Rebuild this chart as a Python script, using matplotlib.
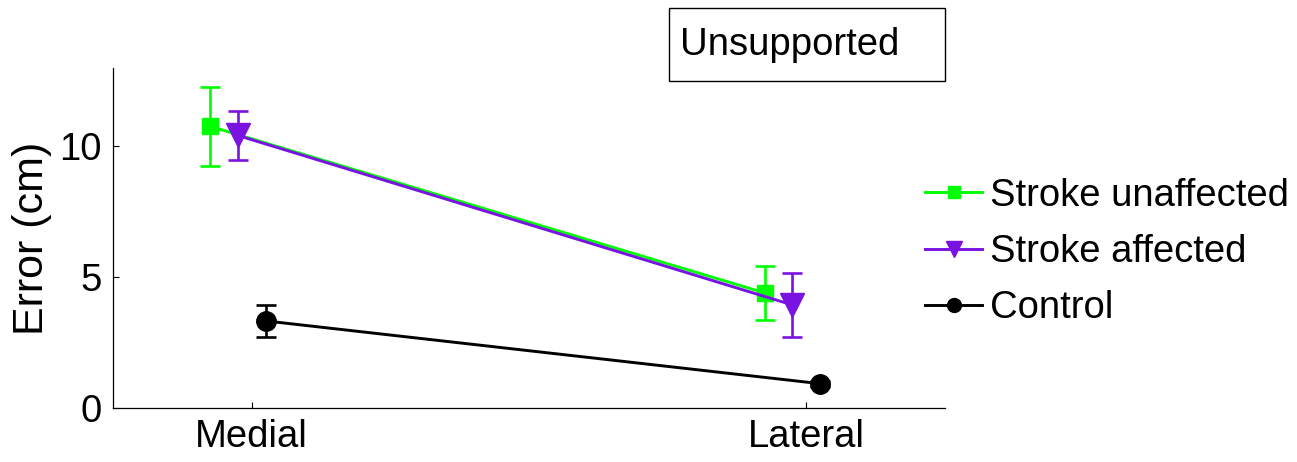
import matplotlib.pyplot as plt
from matplotlib.patches import Rectangle

plt.rcParams['font.family'] = ['Liberation Sans', 'DejaVu Sans']

# data
CONDITIONS = ["Medial", "Lateral"]
GROUPS = ["Stroke unaffected", "Stroke affected", "Control"]
OFFSETS = [-0.075, -0.025, 0.025]

unaffected_mean = [10.77, 4.40]
unaffected_err = [1.52, 1.04]
affected_mean = [10.42, 3.94]
affected_err = [0.92, 1.23]
control_mean = [3.33, 0.93]
control_err = [0.60, 0.12]

MEANS = [unaffected_mean, affected_mean, control_mean]
ERRS = [unaffected_err, affected_err, control_err]
COLORS = ["#00FF00", "#7A12E2", "#000000"]
MARKERS = ["s", "v", "o"]
MSIZES = [11.5, 17, 14]
LEG_MSIZES = [9, 12, 10]

W, H = 1297, 462
fig = plt.figure(figsize=(W / 100, H / 100), dpi=100)
ax = fig.add_axes([113 / W, 1 - 408 / H, (945 - 113) / W, (408 - 68) / H])

base_x = [1, 2]
handles = []
for name, mean, err, col, mk, ms, lms, off in zip(GROUPS, MEANS, ERRS, COLORS,
                                                 MARKERS, MSIZES, LEG_MSIZES, OFFSETS):
    xs = [b + off for b in base_x]
    ax.errorbar(xs, mean, yerr=err, color=col, marker=mk, markersize=ms,
                linewidth=2.1, elinewidth=1.9, capsize=7, capthick=1.9)
    h, = ax.plot([], [], color=col, marker=mk, markersize=lms, linewidth=2.1)
    handles.append(h)

ax.set_xlim(0.75, 2.25)
ax.set_ylim(0, 13)
ax.set_xticks(base_x)
ax.set_xticklabels(CONDITIONS)
ax.set_yticks([0, 5, 10])
ax.tick_params(direction="in", length=4, width=0.8, labelsize=27.5, pad=8)
ax.set_ylabel("Error (cm)", fontsize=31, labelpad=5)
ax.spines["top"].set_visible(False)
ax.spines["right"].set_visible(False)
for s in ("left", "bottom"):
    ax.spines[s].set_linewidth(0.9)

fig.legend(handles, GROUPS, loc="center left", bbox_to_anchor=(925 / W, 1 - 252 / H),
           bbox_transform=fig.transFigure, frameon=False, fontsize=27.5,
           handlelength=1.5, handletextpad=0.2, labelspacing=0.53, borderpad=0,
           borderaxespad=0)

# "Unsupported" label box
fig.patches.append(Rectangle((669 / W, 1 - 81 / H), (945 - 669) / W, (81 - 8) / H,
                             transform=fig.transFigure, fill=False,
                             edgecolor="black", linewidth=1.0))
fig.text(680 / W, 1 - 45 / H, "Unsupported", fontsize=27.5, va="center", ha="left")

fig.savefig("out.png", dpi=100)
